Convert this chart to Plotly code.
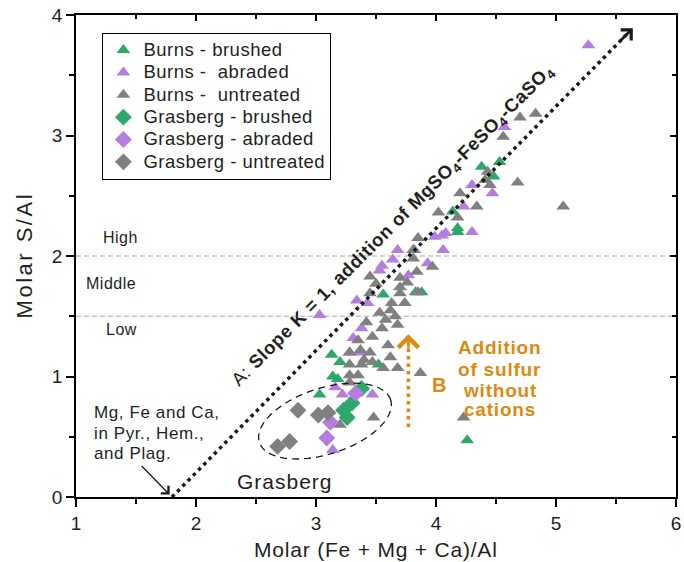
import numpy as np
import plotly.graph_objects as go

# ---------------- data ----------------
burns_brushed_x = [4.38, 4.53, 4.48, 4.18, 4.18, 4.14, 3.56, 3.83, 3.88, 3.13, 3.20, 3.14, 3.18, 3.03, 3.52, 4.26]
burns_brushed_y = [2.74, 2.78, 2.66, 2.23, 2.20, 2.37, 1.68, 1.70, 1.70, 1.18, 1.12, 1.00, 0.98, 0.85, 1.10, 0.47]

burns_abraded_x = [5.27, 4.57, 4.30, 4.47, 4.23, 4.30, 4.05, 3.99, 4.06, 3.68, 3.64, 4.08, 3.93, 3.53,
                   3.77, 3.03, 3.34, 3.43, 3.38, 3.31, 3.28, 3.37, 3.16, 3.22, 3.47, 3.14, 3.82, 3.55]
burns_abraded_y = [3.75, 3.07, 2.59, 2.52, 2.41, 2.20, 2.17, 2.16, 2.05, 2.05, 1.97, 2.19, 1.94, 1.88,
                   1.84, 1.51, 1.63, 1.61, 1.40, 1.32, 1.20, 1.20, 0.91, 0.85, 0.85, 0.39, 2.05, 1.92]

burns_untreated_x = [4.70, 4.83, 4.56, 4.68, 5.06, 4.20, 4.34, 4.02, 4.18, 4.43, 4.45, 4.41, 3.85, 3.81,
                     3.97, 3.70, 3.84, 3.70, 3.85, 3.45, 3.81, 3.70, 3.63, 3.74, 3.53, 3.58, 3.68, 3.55,
                     3.47, 3.35, 3.45, 3.62, 3.28, 3.37, 3.45, 3.62, 3.68, 3.87, 3.56, 3.28, 3.38, 3.47,
                     3.28, 3.35, 3.28, 3.48, 3.20, 4.23, 3.50, 3.66, 3.42, 3.60, 3.76, 3.40]
burns_untreated_y = [3.15, 3.18, 2.99, 2.61, 2.41, 2.52, 2.41, 2.36, 2.32, 2.70, 2.59, 2.63, 2.15, 1.98,
                     1.91, 1.82, 1.87, 1.74, 1.70, 1.83, 2.05, 1.69, 1.61, 1.61, 1.53, 1.47, 1.43, 1.40,
                     1.33, 1.30, 1.69, 1.55, 1.20, 1.22, 1.20, 1.16, 1.07, 1.03, 1.07, 1.10, 1.10, 1.12,
                     1.01, 1.01, 0.95, 0.66, 0.60, 0.66, 1.77, 1.50, 1.45, 1.26, 1.78, 1.14]

gras_brushed_x = [3.38, 3.30, 3.23, 3.26]
gras_brushed_y = [0.90, 0.78, 0.72, 0.66]

gras_abraded_x = [3.33, 3.12, 3.09]
gras_abraded_y = [0.86, 0.62, 0.49]

gras_untreated_x = [2.85, 3.02, 3.10, 2.68, 2.78]
gras_untreated_y = [0.72, 0.68, 0.70, 0.42, 0.46]

x_ticks = [1, 2, 3, 4, 5, 6]
y_ticks = [0, 1, 2, 3, 4]

# guide lines
slope_line_x = [1.80, 5.63]
slope_line_y = [0.00, 3.88]
level_high = 2.0
level_low = 1.5

GREEN = '#2ea86a'
PURPLE = '#b47ddf'
GRAY = '#808080'
ORANGE = '#dc8a12'
TXT = '#231f20'
FONT = 'Liberation Sans, Arial, sans-serif'


def sp(s, ls=0.5, size=None):
    st = f'letter-spacing:{ls}px'
    if size:
        st += f';font-size:{size}px'
    return f'<span style="{st}">{s}</span>'


fig = go.Figure()

series = [
    ('Burns - brushed', burns_brushed_x, burns_brushed_y, 'triangle-up', GREEN, 12),
    ('Burns -\u00a0 abraded', burns_abraded_x, burns_abraded_y, 'triangle-up', PURPLE, 12),
    ('Burns -\u00a0 untreated', burns_untreated_x, burns_untreated_y, 'triangle-up', GRAY, 12),
    ('Grasberg - brushed', gras_brushed_x, gras_brushed_y, 'diamond', GREEN, 13),
    ('Grasberg - abraded', gras_abraded_x, gras_abraded_y, 'diamond', PURPLE, 13),
    ('Grasberg - untreated', gras_untreated_x, gras_untreated_y, 'diamond', GRAY, 13),
]
for name, xs, ys, sym, col, sz in series:
    fig.add_trace(go.Scatter(x=xs, y=ys, mode='markers', name=sp(name, 0.5, 18.5),
                             marker=dict(symbol=sym, color=col, size=sz, line=dict(width=0))))

# invisible trace for mirrored axes (top/right inside ticks)
fig.add_trace(go.Scatter(x=[1], y=[0], xaxis='x2', yaxis='y2', mode='markers',
                         marker=dict(opacity=0), showlegend=False, hoverinfo='skip'))

shapes = []
for lv in (level_high, level_low):
    shapes.append(dict(type='line', xref='x', yref='y', x0=1, x1=6, y0=lv, y1=lv,
                       line=dict(color='#a6a6a6', width=1.2, dash='5px,3px'), layer='below'))
shapes.append(dict(type='line', xref='x', yref='y', x0=slope_line_x[0], y0=slope_line_y[0],
                   x1=slope_line_x[1], y1=slope_line_y[1],
                   line=dict(color='#1a1a1a', width=3.5, dash='3.5px,4px')))
shapes.append(dict(type='line', xref='x', yref='y', x0=3.77, y0=0.58, x1=3.77, y1=1.28,
                   line=dict(color=ORANGE, width=3.5, dash='3.5px,4px')))

# dashed ellipse around Grasberg points (pixel-space ellipse converted to data units)
t = np.linspace(0, 2 * np.pi, 80)
a_px, b_px, th = 69, 33, np.deg2rad(18)
dx = (a_px * np.cos(t) * np.cos(th) - b_px * np.sin(t) * np.sin(th)) / 120.0
dy = (a_px * np.cos(t) * np.sin(th) + b_px * np.sin(t) * np.cos(th)) / 120.5
ex, ey = 3.075 + dx, 0.63 + dy
path = 'M ' + ' L '.join(f'{x:.4f},{y:.4f}' for x, y in zip(ex, ey)) + ' Z'
shapes.append(dict(type='path', xref='x', yref='y', path=path,
                   line=dict(color='#1a1a1a', width=1.3, dash='7px,5px')))

ann = []


def txt(x, y, s, size=16, color=TXT, xanchor='center', angle=0, bold=False, ls=0.5, ref='x'):
    s = sp(s, ls)
    ann.append(dict(x=x, y=y, xref=ref if ref == 'x' else 'paper', yref='y' if ref == 'x' else 'paper',
                    text=(f'<b>{s}</b>' if bold else s),
                    showarrow=False, xanchor=xanchor, yanchor='middle', textangle=angle,
                    font=dict(family=FONT, size=size, color=color)))


txt(1.37, 2.15, 'High', 16)
txt(1.29, 1.77, 'Middle', 16)
txt(1.38, 1.39, 'Low', 16)
txt(1.133, 0.705, 'Mg, Fe and Ca,', 17, xanchor='left', ls=0.6)
txt(1.133, 0.531, 'in Pyr., Hem.,', 17, xanchor='left', ls=0.6)
txt(1.133, 0.357, 'and Plag.', 17, xanchor='left', ls=0.6)
txt(2.74, 0.13, 'Grasberg', 21, ls=1.0)
for yy, s in zip([1.237, 1.062, 0.888, 0.730], ['Addition', 'of sulfur', 'without', 'cations']):
    txt(4.53, yy, s, 19, ORANGE, bold=True, ls=0.8)
txt(4.03, 0.93, 'B', 20, ORANGE, bold=True)
# axis titles
txt(0.5, -0.108, 'Molar (Fe + Mg + Ca)/Al', 21, ls=0.8, ref='paper')
txt(-0.086, 0.502, 'Molar S/Al', 22, ls=2.5, angle=-90, ref='paper')

ann.append(dict(x=3.64, y=2.25, xref='x', yref='y', showarrow=False, textangle=-45,
                text=sp('A: <b>Slope K = 1, addition of MgSO<sub>4</sub>-FeSO<sub>4</sub>-CaSO<sub>4</sub></b>', 0.6),
                font=dict(family=FONT, size=18.5, color=TXT)))

# arrowheads
ann.append(dict(x=5.64, y=3.89, ax=5.52, ay=3.77, xref='x', yref='y', axref='x', ayref='y',
                text='', showarrow=True, arrowhead=4, arrowsize=1.1, arrowwidth=2.6,
                arrowcolor='#1a1a1a', standoff=0))
ann.append(dict(x=3.77, y=1.35, ax=3.77, ay=1.22, xref='x', yref='y', axref='x', ayref='y',
                text='', showarrow=True, arrowhead=4, arrowsize=1.5, arrowwidth=2.6,
                arrowcolor=ORANGE, standoff=0))
ann.append(dict(x=1.78, y=0.02, ax=1.535, ay=0.27, xref='x', yref='y', axref='x', ayref='y',
                text='', showarrow=True, arrowhead=4, arrowsize=1.6, arrowwidth=1.3,
                arrowcolor='#1a1a1a', standoff=0))

axis_common = dict(showline=True, linecolor='black', linewidth=1.5, showgrid=False, zeroline=False,
                   tickcolor='black', tickwidth=1.5, mirror=False, automargin=False)

fig.update_layout(
    width=684, height=562,
    margin=dict(l=76, r=8, t=15, b=65),
    paper_bgcolor='white', plot_bgcolor='white',
    showlegend=True,
    legend=dict(x=0.044, y=0.963, xanchor='left', yanchor='top',
                bgcolor='white', bordercolor='black', borderwidth=1,
                font=dict(family=FONT, size=14.9, color=TXT),
                tracegroupgap=0, itemwidth=30),
    xaxis=dict(range=[1, 6], tickvals=x_ticks, ticks='outside', ticklen=8,
               minor=dict(ticks='outside', ticklen=5, dtick=0.5, tick0=1, tickcolor='black', tickwidth=1.5),
               tickfont=dict(family=FONT, size=19, color=TXT), **axis_common),
    yaxis=dict(range=[0, 4], tickvals=y_ticks, ticks='outside', ticklen=8,
               minor=dict(ticks='outside', ticklen=5, dtick=0.5, tick0=0, tickcolor='black', tickwidth=1.5),
               tickfont=dict(family=FONT, size=19, color=TXT), **axis_common),
    xaxis2=dict(range=[1, 6], overlaying='x', side='top', anchor='y2', tickvals=x_ticks, ticks='inside', ticklen=6,
                minor=dict(ticks='inside', ticklen=4, dtick=0.5, tick0=1, tickcolor='black', tickwidth=1.5),
                showticklabels=False, **axis_common),
    yaxis2=dict(range=[0, 4], overlaying='y', side='right', anchor='x2', tickvals=y_ticks, ticks='inside', ticklen=6,
                minor=dict(ticks='inside', ticklen=4, dtick=0.5, tick0=0, tickcolor='black', tickwidth=1.5),
                showticklabels=False, **axis_common),
    shapes=shapes,
    annotations=ann,
)

fig.write_html('out.html', config={'displayModeBar': False},
               post_script="document.body.style.margin='0';")
